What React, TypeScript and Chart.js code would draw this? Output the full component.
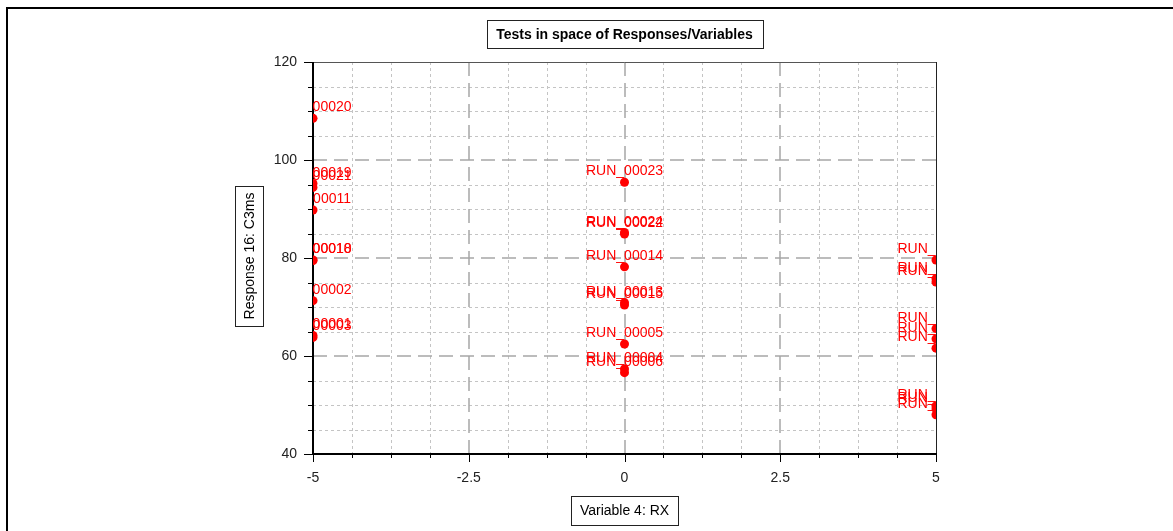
import React, { useEffect, useRef } from 'react';
import { Chart, registerables } from 'chart.js';

Chart.register(...registerables);

const chartTitle = 'Tests in space of Responses/Variables';
const xAxisTitle = 'Variable 4: RX';
const yAxisTitle = 'Response 16: C3ms';

const xTickValues = [-5, -2.5, 0, 2.5, 5];
const xTickLabels = ['-5', '-2.5', '0', '2.5', '5'];
const yTickValues = [40, 60, 80, 100, 120];
const yTickLabels = ['40', '60', '80', '100', '120'];

const runNames = [
  'RUN_00020', 'RUN_00019', 'RUN_00021', 'RUN_00011', 'RUN_00010', 'RUN_00018', 'RUN_00002', 'RUN_00001', 'RUN_00003',
  'RUN_00023', 'RUN_00024', 'RUN_00022', 'RUN_00014', 'RUN_00013', 'RUN_00015', 'RUN_00005', 'RUN_00004', 'RUN_00006',
  'RUN_00007', 'RUN_00008', 'RUN_00009', 'RUN_00012', 'RUN_00016', 'RUN_00017', 'RUN_00025', 'RUN_00026', 'RUN_00027',
];
const runRX = [
  -5, -5, -5, -5, -5, -5, -5, -5, -5,
  0, 0, 0, 0, 0, 0, 0, 0, 0,
  5, 5, 5, 5, 5, 5, 5, 5, 5,
];
const runC3ms = [
  108.5, 95.2, 94.4, 89.8, 79.5, 79.6, 71.3, 64.2, 63.8,
  95.45, 85.2, 84.9, 78.2, 70.9, 70.4, 62.45, 57.35, 56.6,
  79.6, 75.8, 75.1, 65.6, 63.5, 61.6, 49.8, 49.2, 48.0,
];

const xMinorDivisions = 4;
const yMinorDivisions = 4;

const FONT = '"Liberation Sans", Arial, sans-serif';

function drawBoxedText(ctx, text, cx, cy, font, vertical, padLong, thick) {
  ctx.save();
  ctx.font = font;
  const w = ctx.measureText(text).width;
  const long = Math.round(w + padLong * 2);
  let bw = vertical ? thick : long;
  let bh = vertical ? long : thick;
  const x0 = Math.round(cx - bw / 2) + 0.5;
  const y0 = Math.round(cy - bh / 2) + 0.5;
  ctx.fillStyle = '#ffffff';
  ctx.fillRect(x0, y0, bw, bh);
  ctx.strokeStyle = '#222';
  ctx.lineWidth = 1;
  ctx.strokeRect(x0, y0, bw, bh);
  ctx.fillStyle = '#000';
  ctx.textAlign = 'center';
  ctx.textBaseline = 'middle';
  ctx.translate(cx, cy);
  if (vertical) ctx.rotate(-Math.PI / 2);
  ctx.fillText(text, 0, 1);
  ctx.restore();
}

const decorPlugin = {
  id: 'decor',
  beforeDatasetsDraw(chart) {
    const { ctx, chartArea: a, scales } = chart;
    const xs = scales.x;
    const ys = scales.y;
    ctx.save();
    // minor grid
    ctx.strokeStyle = '#c4c4c4';
    ctx.lineWidth = 1;
    ctx.setLineDash([3, 3]);
    for (let i = 0; i < xTickValues.length - 1; i++) {
      const step = (xTickValues[i + 1] - xTickValues[i]) / xMinorDivisions;
      for (let k = 1; k < xMinorDivisions; k++) {
        const px = Math.round(xs.getPixelForValue(xTickValues[i] + k * step)) + 0.5;
        ctx.beginPath(); ctx.moveTo(px, a.top); ctx.lineTo(px, a.bottom); ctx.stroke();
      }
    }
    for (let i = 0; i < yTickValues.length - 1; i++) {
      const step = (yTickValues[i + 1] - yTickValues[i]) / yMinorDivisions;
      for (let k = 1; k < yMinorDivisions; k++) {
        const py = Math.round(ys.getPixelForValue(yTickValues[i] + k * step)) + 0.5;
        ctx.beginPath(); ctx.moveTo(a.left, py); ctx.lineTo(a.right, py); ctx.stroke();
      }
    }
    // major grid
    ctx.strokeStyle = '#a6a6a6';
    ctx.lineWidth = 1.5;
    ctx.setLineDash([14, 7]);
    for (let i = 1; i < xTickValues.length - 1; i++) {
      const px = Math.round(xs.getPixelForValue(xTickValues[i]));
      ctx.beginPath(); ctx.moveTo(px, a.top); ctx.lineTo(px, a.bottom); ctx.stroke();
    }
    for (let i = 1; i < yTickValues.length - 1; i++) {
      const py = Math.round(ys.getPixelForValue(yTickValues[i]));
      ctx.beginPath(); ctx.moveTo(a.left, py); ctx.lineTo(a.right, py); ctx.stroke();
    }
    ctx.setLineDash([]);
    // tick marks
    ctx.strokeStyle = '#000';
    ctx.lineWidth = 1;
    for (let i = 0; i < xTickValues.length; i++) {
      const px = Math.round(xs.getPixelForValue(xTickValues[i])) + 0.5;
      ctx.beginPath(); ctx.moveTo(px, a.bottom); ctx.lineTo(px, a.bottom + 8); ctx.stroke();
      if (i < xTickValues.length - 1) {
        const step = (xTickValues[i + 1] - xTickValues[i]) / xMinorDivisions;
        for (let k = 1; k < xMinorDivisions; k++) {
          const mx = Math.round(xs.getPixelForValue(xTickValues[i] + k * step)) + 0.5;
          ctx.beginPath(); ctx.moveTo(mx, a.bottom); ctx.lineTo(mx, a.bottom + 4); ctx.stroke();
        }
      }
    }
    for (let i = 0; i < yTickValues.length; i++) {
      const py = Math.round(ys.getPixelForValue(yTickValues[i])) + 0.5;
      ctx.beginPath(); ctx.moveTo(a.left - 9, py); ctx.lineTo(a.left, py); ctx.stroke();
      if (i < yTickValues.length - 1) {
        const step = (yTickValues[i + 1] - yTickValues[i]) / yMinorDivisions;
        for (let k = 1; k < yMinorDivisions; k++) {
          const my = Math.round(ys.getPixelForValue(yTickValues[i] + k * step)) + 0.5;
          ctx.beginPath(); ctx.moveTo(a.left - 5, my); ctx.lineTo(a.left, my); ctx.stroke();
        }
      }
    }
    // plot border
    ctx.strokeStyle = '#555';
    ctx.lineWidth = 1;
    ctx.beginPath(); ctx.moveTo(a.left, a.top + 0.5); ctx.lineTo(a.right, a.top + 0.5); ctx.stroke();
    ctx.strokeStyle = '#222';
    ctx.beginPath(); ctx.moveTo(a.right + 0.5, a.top); ctx.lineTo(a.right + 0.5, a.bottom); ctx.stroke();
    ctx.fillStyle = '#000';
    ctx.fillRect(a.left - 1, a.top, 2, a.bottom - a.top + 1);
    ctx.fillRect(a.left - 1, a.bottom - 1, a.right - a.left + 2, 2);
    ctx.restore();
  },
  afterDatasetsDraw(chart) {
    const { ctx, chartArea: a } = chart;
    const meta = chart.getDatasetMeta(0);
    ctx.save();
    ctx.beginPath();
    ctx.rect(a.left, a.top, a.right - a.left, a.bottom - a.top);
    ctx.clip();
    ctx.font = '14px ' + FONT;
    ctx.fillStyle = '#ff0000';
    ctx.textAlign = 'center';
    ctx.textBaseline = 'alphabetic';
    meta.data.forEach((pt, i) => {
      ctx.fillText(runNames[i], pt.x, pt.y - 7);
    });
    ctx.restore();
  },
  afterDraw(chart) {
    const { ctx, chartArea: a } = chart;
    ctx.save();
    ctx.fillStyle = '#000';
    ctx.fillRect(6, 7, chart.width - 6, 2);
    ctx.fillRect(6, 7, 2, chart.height - 7);
    ctx.restore();
    const cx = (a.left + a.right) / 2;
    drawBoxedText(ctx, chartTitle, cx, 34, 'bold 14px ' + FONT, false, 9.5, 28);
    drawBoxedText(ctx, xAxisTitle, cx, 510.5, '14px ' + FONT, false, 9, 29);
    drawBoxedText(ctx, yAxisTitle, 249, (a.top + a.bottom) / 2 - 2, '14px ' + FONT, true, 6.5, 28);
  },
};

export default function App() {
  const ref = useRef(null);
  useEffect(() => {
    const canvas = ref.current;
    if (!canvas) return;
    const points = runRX.map((x, i) => ({ x, y: runC3ms[i] }));
    const tickFont = { family: FONT, size: 14 };
    const chart = new Chart(canvas, {
      type: 'scatter',
      data: {
        datasets: [
          {
            label: yAxisTitle,
            data: points,
            backgroundColor: '#ff0000',
            borderColor: '#ff0000',
            borderWidth: 0,
            pointRadius: 4.5,
            pointHoverRadius: 4.5,
            clip: 0,
          },
        ],
      },
      options: {
        animation: false,
        responsive: false,
        devicePixelRatio: 1,
        layout: { padding: { left: 253, right: 237, top: 62, bottom: 37 } },
        plugins: {
          legend: { display: false },
          tooltip: { enabled: false },
          title: { display: false },
        },
        scales: {
          x: {
            type: 'linear',
            min: -5,
            max: 5,
            afterBuildTicks: (s) => { s.ticks = xTickValues.map((value) => ({ value })); },
            afterFit: (s) => { s.height = 40; },
            grid: { display: false, drawTicks: false },
            border: { display: false },
            ticks: {
              padding: 16,
              font: tickFont,
              color: '#222',
              maxRotation: 0,
              autoSkip: false,
              callback: (v, i) => xTickLabels[i],
            },
          },
          y: {
            type: 'linear',
            min: 40,
            max: 120,
            afterBuildTicks: (s) => { s.ticks = yTickValues.map((value) => ({ value })); },
            afterFit: (s) => { s.width = 60; },
            grid: { display: false, drawTicks: false },
            border: { display: false },
            ticks: {
              padding: 16,
              font: tickFont,
              color: '#222',
              autoSkip: false,
              callback: (v, i) => yTickLabels[i],
            },
          },
        },
      },
      plugins: [decorPlugin],
    });
    return () => chart.destroy();
  }, []);
  return (
    <div style={{ position: 'absolute', left: 0, top: 0, width: 1173, height: 531, background: '#fff' }}>
      <canvas ref={ref} width={1173} height={531} style={{ display: 'block', width: 1173, height: 531 }} />
    </div>
  );
}
